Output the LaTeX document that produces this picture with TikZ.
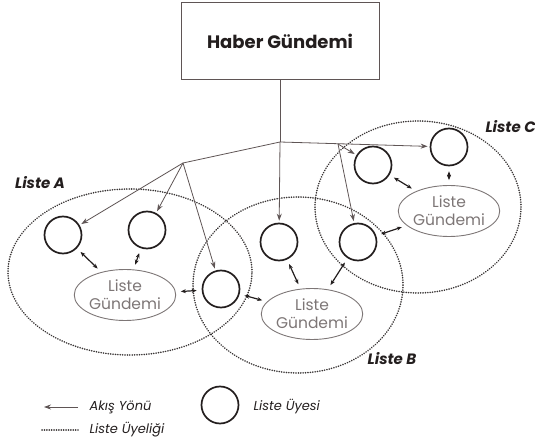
\documentclass[tikz,border=0pt]{standalone}
\usepackage{fontspec}
\setmainfont{Poppins}
\usetikzlibrary{graphs,calc,shapes.geometric,arrows.meta}
\definecolor{flowgray}{RGB}{95,85,85}
\definecolor{agendagray}{RGB}{125,118,118}
\definecolor{memberdark}{RGB}{35,30,30}
\tikzset{
  member/.style={circle, draw=memberdark, line width=1.7pt, minimum size=37pt, inner sep=0pt},
  agenda/.style={ellipse, draw=agendagray, line width=0.9pt, minimum width=98pt, minimum height=51pt,
    inner sep=0pt, align=center, text=agendagray, font=\fontsize{15.5}{18}\selectfont},
  listring/.style={draw=memberdark!90, line width=1.7pt, dash pattern=on 0.1pt off 2.3pt, line cap=round},
  flowline/.style={draw=flowgray, line width=0.8pt},
  flow/.style={flowline, >={Stealth[length=7pt,width=5pt]}, shorten >=2pt},
  link/.style={draw=memberdark, line width=1.2pt, >={Stealth[length=5pt,width=4pt]}, shorten >=5pt, shorten <=5pt},
  listname/.style={font=\fontsize{15}{18}\selectfont\bfseries\itshape, text=memberdark},
  keytext/.style={anchor=west, font=\fontsize{13}{16}\selectfont\itshape, text=memberdark}
}
\begin{document}
\begin{tikzpicture}[x=1pt, y=-1pt]
\useasboundingbox (0,0) rectangle (535,443);

\node[draw=flowgray, line width=0.9pt, minimum width=198pt, minimum height=77pt,
  font=\fontsize{18}{21}\selectfont\bfseries, text=memberdark] (haber) at (280,41) {Haber Gündemi};

\draw[listring] (130,272) ellipse [x radius=122pt, y radius=83pt];
\draw[listring] (298,285) ellipse [x radius=105pt, y radius=88pt];
\draw[listring] (418,207) ellipse [x radius=103pt, y radius=86pt];

\node[member] (a1) at (63,235) {};
\node[member] (a2) at (147,230) {};
\node[member] (a3) at (221,289) {};
\node[member] (b1) at (279,242) {};
\node[member] (b2) at (358,242) {};
\node[member] (c1) at (373,165) {};
\node[member] (c2) at (449,147) {};

\node[agenda] (la) at (125,295) {Liste\\Gündemi};
\node[agenda] (lb) at (312,314) {Liste\\Gündemi};
\node[agenda] (lc) at (449,211) {Liste\\Gündemi};

\coordinate (j0) at (280,142);
\coordinate (jl) at (183,163);
\coordinate (jc) at (338,144);

\graph [use existing nodes, edges={flowline}] {
  haber -- j0 -- jl;
  jl ->[flow] {a1, a2, a3};
  j0 ->[flow] {b1, c2};
  jc ->[flow] {c1, b2}
};

\graph [use existing nodes, edges={link}] {
  a1 <-> la; a2 <-> la; a3 <-> la; a3 <-> lb;
  b1 <-> lb; b2 <-> lb; b2 <-> lc;
  c1 <-> lc; c2 <-> lc
};

\node[listname] (nameA) at (40,183) {Liste A};
\node[listname] (nameB) at (392,359) {Liste B};
\node[listname, anchor=west] (nameC) at (482,127) {Liste C};

\coordinate (ka1) at (78,407);
\coordinate (ka2) at (42,407);
\coordinate (kd1) at (42,430);
\coordinate (kd2) at (78,430);
\graph [use existing nodes] { ka1 ->[flow] ka2 };
\draw[listring] (kd1) -- (kd2);
\node[member] (keym) at (220,405) {};
\node[keytext] (keyflow) at (86,407) {Akış Yönü};
\node[keytext] (keylist) at (86,430) {Liste Üyeliği};
\node[keytext] (keymem) at (250,407) {Liste Üyesi};
\end{tikzpicture}
\end{document}
